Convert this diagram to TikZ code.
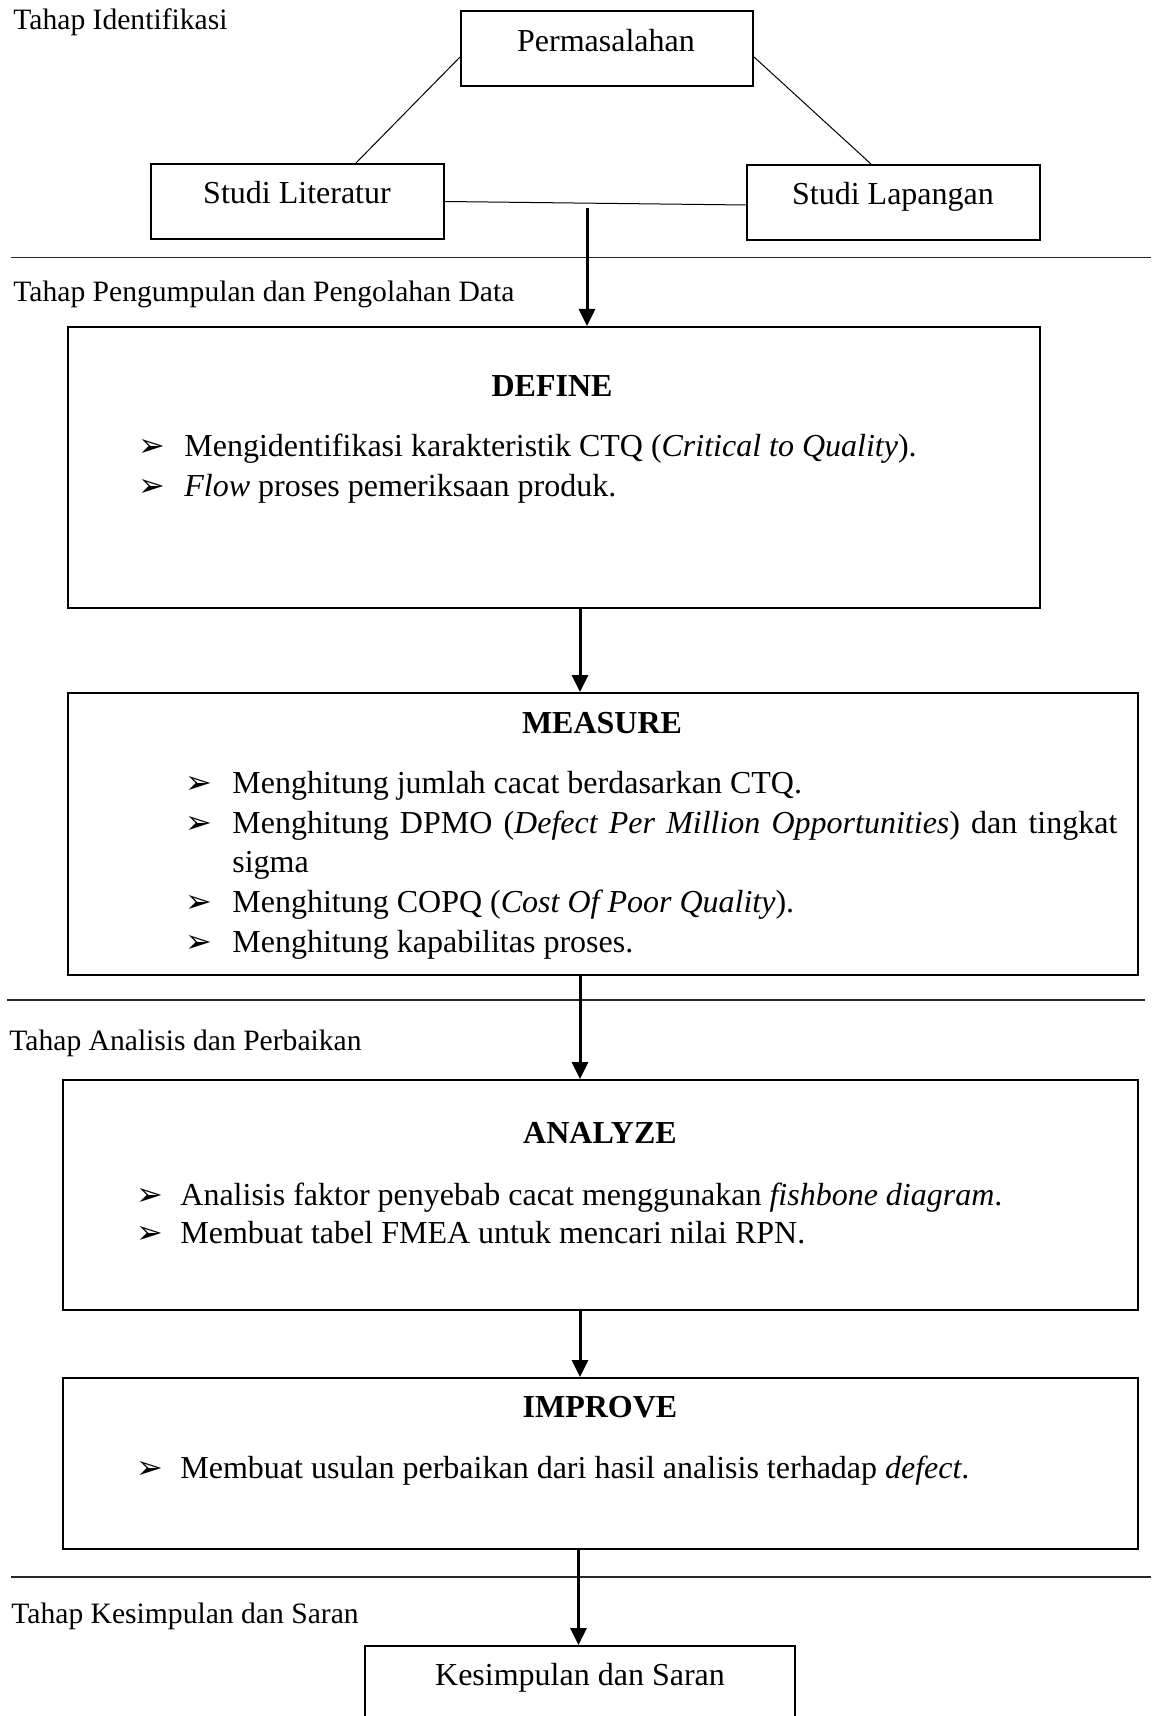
\documentclass[tikz,border=0pt]{standalone}
\usepackage{fontspec}
\setmainfont{Liberation Serif}
\newfontfamily\bulletfont{DejaVu Sans}
\usetikzlibrary{arrows.meta,calc}
\newcommand{\blt}{{\bulletfont\fontsize{16}{18}\selectfont ➢}}
\begin{document}
\begin{tikzpicture}[x=0.5pt,y=-0.5pt,
  box/.style={draw, line width=1pt, rectangle, inner sep=0pt},
  link/.style={line width=0.5pt},
  sep/.style={line width=0.6pt, black!85},
  arr/.style={line width=1.5pt, -{Triangle[length=8.5pt,width=8pt]}},
  lbl/.style={anchor=base west, inner sep=0pt, font=\fontsize{14.8}{17}\selectfont},
  txt/.style={anchor=base west, inner sep=0pt, font=\fontsize{16}{18}\selectfont},
  ctxt/.style={anchor=base, inner sep=0pt, font=\fontsize{16}{18}\selectfont},
  head/.style={anchor=base, inner sep=0pt, font=\fontsize{16}{18}\selectfont\bfseries},
  bul/.style={anchor=base west, inner sep=0pt}]
\useasboundingbox (0,0) rectangle (1151,1716);
\clip (0,0) rectangle (1151,1716);

% ---- Tahap Identifikasi
\node[lbl] (t1) at (13,30) {Tahap Identifikasi};
\node[box, minimum width=146pt, minimum height=37.5pt] (perm) at (607,48.5) {};
\node[ctxt] (permt) at (606,52) {Permasalahan};
\node[box, minimum width=146.5pt, minimum height=37.5pt] (lit) at (297,201.5) {};
\node[ctxt] (litt) at (297,204) {Studi Literatur};
\node[box, minimum width=146.5pt, minimum height=37.5pt] (lap) at (893.5,202.5) {};
\node[ctxt] (lapt) at (893,205) {Studi Lapangan};

\draw[link] ($(perm.west)+(0,8.5)$) -- ($(lit.north)+(59,0)$);
\draw[link] ($(perm.east)+(0,8.5)$) -- ($(lap.north)+(-22.5,0)$);
\draw[link] (lit.east) -- ($(lap.west)+(0,2.5)$);

\draw[sep] (11,257.5) -- (1151,257.5);

% ---- Tahap Pengumpulan
\node[lbl] (t2) at (13,302) {Tahap Pengumpulan dan Pengolahan Data};
\node[box, minimum width=486.25pt, minimum height=140.5pt] (define) at (553.75,467.5) {};
\node[head] (defh) at (552,397) {DEFINE};
\node[bul] (db1) at (138,457) {\blt};
\node[txt] (d1) at (184,457) {Mengidentifikasi karakteristik CTQ (\textit{Critical to Quality}).};
\node[bul] (db2) at (138,497) {\blt};
\node[txt] (d2) at (184,497) {\textit{Flow} proses pemeriksaan produk.};

\coordinate (a0) at (587,208);
\draw[arr] (a0) -- (a0 |- define.north);

\node[box, minimum width=535.25pt, minimum height=141pt] (measure) at (602.75,834) {};
\node[head] (meah) at (602,733) {MEASURE};
\node[bul] (mb1) at (185,793) {\blt};
\node[txt] (m1) at (232,793) {Menghitung jumlah cacat berdasarkan CTQ.};
\node[bul] (mb2) at (185,833) {\blt};
\node[txt] (m2) at (232,833) {\makebox[442.5pt][s]{Menghitung DPMO (\textit{Defect Per Million Opportunities}) dan tingkat}};
\node[txt] (m2b) at (232,872) {sigma};
\node[bul] (mb3) at (185,912) {\blt};
\node[txt] (m3) at (232,912) {Menghitung COPQ (\textit{Cost Of Poor Quality}).};
\node[bul] (mb4) at (185,952) {\blt};
\node[txt] (m4) at (232,952) {Menghitung kapabilitas proses.};

\draw[arr] (define.south -| 580,0) -- (measure.north -| 580,0);

\draw[sep] (7,1000) -- (1145,1000);

% ---- Tahap Analisis
\node[lbl] (t3) at (9,1050) {Tahap Analisis dan Perbaikan};
\node[box, minimum width=537.75pt, minimum height=115pt] (analyze) at (600.25,1195) {};
\node[head] (anh) at (600,1143) {ANALYZE};
\node[bul] (ab1) at (136,1205) {\blt};
\node[txt] (an1) at (180,1205) {Analisis faktor penyebab cacat menggunakan \textit{fishbone diagram}.};
\node[bul] (ab2) at (136,1243) {\blt};
\node[txt] (an2) at (180,1243) {Membuat tabel FMEA untuk mencari nilai RPN.};

\draw[arr] (measure.south -| 580,0) -- (analyze.north -| 580,0);

\node[box, minimum width=537.75pt, minimum height=85.5pt] (improve) at (600.25,1463.5) {};
\node[head] (imh) at (600,1417) {IMPROVE};
\node[bul] (ib1) at (136,1478) {\blt};
\node[txt] (im1) at (180,1478) {Membuat usulan perbaikan dari hasil analisis terhadap \textit{defect}.};

\draw[arr] (analyze.south -| 580,0) -- (improve.north -| 580,0);

\draw[sep] (11,1577) -- (1151,1577);

% ---- Tahap Kesimpulan
\node[lbl] (t4) at (11,1623) {Tahap Kesimpulan dan Saran};
\node[box, minimum width=215pt, minimum height=39.5pt] (kes) at (580,1685.5) {};
\node[ctxt] (kest) at (580,1685) {Kesimpulan dan Saran};

\draw[arr] (improve.south -| 578.5,0) -- (kes.north -| 578.5,0);
\end{tikzpicture}
\end{document}
